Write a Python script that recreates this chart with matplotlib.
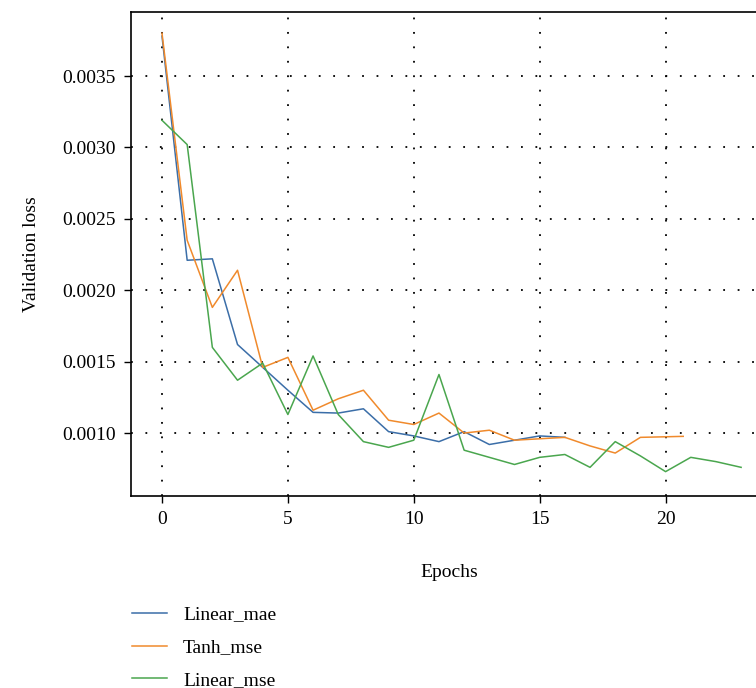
import numpy as np
import matplotlib.pyplot as plt

plt.rcParams['font.family'] = ['Liberation Serif', 'DejaVu Serif']

# validation loss per epoch
linear_mae = [0.00378, 0.00221, 0.00222, 0.00162, 0.00146, 0.00130, 0.001145,
              0.00114, 0.00117, 0.00101, 0.00098, 0.00094, 0.00101, 0.00092,
              0.00095, 0.00098, 0.00097]
tanh_mse = [0.00380, 0.00235, 0.00188, 0.00214, 0.00146, 0.00153, 0.00116,
            0.00124, 0.00130, 0.00109, 0.00106, 0.00114, 0.00100, 0.00102,
            0.00095, 0.00096, 0.00097, 0.00091, 0.00086, 0.00097, 0.000974,
            0.000977]
linear_mse = [0.00319, 0.00302, 0.00160, 0.00137, 0.00149, 0.00113, 0.00154,
              0.00113, 0.00094, 0.00090, 0.00095, 0.00141, 0.00088, 0.00083,
              0.00078, 0.00083, 0.00085, 0.00076, 0.00094, 0.00084, 0.00073,
              0.00083, 0.00080, 0.00076]
tanh_epochs = list(range(21)) + [20.7]

fig = plt.figure(figsize=(7.56, 6.88), dpi=100)
ax = fig.add_axes([0.1733, 0.279, 0.842, 0.7035])

ax.plot(np.arange(len(linear_mae)), linear_mae, color='#3b6ea8', lw=1.1, label='Linear_mae')
ax.plot(tanh_epochs, tanh_mse, color='#f08a2c', lw=1.1, label='Tanh_mse')
ax.plot(np.arange(len(linear_mse)), linear_mse, color='#4aa64e', lw=1.1, label='Linear_mse')

ax.set_xlim(-1.23, 24.05)
ax.set_ylim(0.000559, 0.003948)
ax.set_xticks([0, 5, 10, 15, 20])
ax.set_yticks([0.0010, 0.0015, 0.0020, 0.0025, 0.0030, 0.0035])
ax.set_yticklabels(['0.0010', '0.0015', '0.0020', '0.0025', '0.0030', '0.0035'])
ax.grid(True, color='black', linestyle=(0, (1, 7)), linewidth=1.3)
ax.tick_params(direction='out', length=5, width=1, labelsize=14, pad=6)
for s in ax.spines.values():
    s.set_linewidth(1.2)

ax.set_xlabel('Epochs', fontsize=14, labelpad=26)
ax.set_ylabel('Validation loss', fontsize=14, labelpad=16)

ax.legend(loc='upper left', bbox_to_anchor=(-0.01, -0.211), frameon=False,
          fontsize=14, handlelength=1.8, labelspacing=0.78, borderaxespad=0)

fig.savefig('out.png', dpi=100)
